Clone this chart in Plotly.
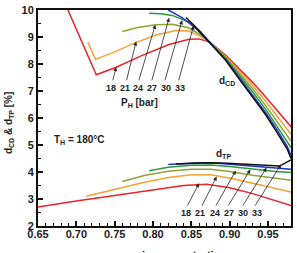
import plotly.graph_objects as go

# ---- data ----
pressures = ["18", "21", "24", "27", "30", "33"]
colors = ["#e8232b", "#f5a033", "#8da334", "#2b9a3d", "#2233cc", "#111111"]

# d_CD curves
cd18_x = [0.689, 0.726, 0.752, 0.786, 0.821, 0.847, 0.860, 0.875, 0.895, 0.912, 0.930, 0.947, 0.962, 0.975, 0.980]
cd18_y = [10.0, 7.60, 7.88, 8.32, 8.72, 8.92, 8.93, 8.80, 8.32, 7.85, 7.32, 6.78, 6.28, 5.85, 5.68]
cd21_x = [0.715, 0.725, 0.750, 0.778, 0.805, 0.830, 0.845, 0.858, 0.875, 0.895, 0.912, 0.930, 0.947, 0.962, 0.975, 0.980]
cd21_y = [8.80, 8.17, 8.45, 8.80, 9.08, 9.24, 9.23, 9.08, 8.80, 8.28, 7.76, 7.20, 6.62, 6.08, 5.58, 5.40]
cd24_x = [0.760, 0.780, 0.804, 0.825, 0.845, 0.860, 0.875, 0.895, 0.912, 0.930, 0.947, 0.962, 0.975, 0.980]
cd24_y = [9.20, 9.35, 9.45, 9.47, 9.35, 9.12, 8.79, 8.24, 7.68, 7.08, 6.46, 5.88, 5.35, 5.15]
cd27_x = [0.795, 0.810, 0.825, 0.847, 0.862, 0.875, 0.895, 0.912, 0.930, 0.947, 0.962, 0.975, 0.980]
cd27_y = [9.88, 9.86, 9.80, 9.55, 9.20, 8.78, 8.20, 7.60, 6.96, 6.32, 5.70, 5.12, 4.90]
cd30_x = [0.820, 0.838, 0.856, 0.875, 0.895, 0.912, 0.930, 0.947, 0.962, 0.975, 0.980]
cd30_y = [10.0, 9.72, 9.32, 8.77, 8.16, 7.52, 6.85, 6.20, 5.55, 4.95, 4.62]
cd33_x = [0.843, 0.856, 0.875, 0.895, 0.912, 0.930, 0.947, 0.962, 0.975, 0.980]
cd33_y = [9.72, 9.36, 8.76, 8.13, 7.46, 6.78, 6.12, 5.45, 4.85, 4.50]

# d_TP curves
tp18_x = [0.650, 0.700, 0.750, 0.800, 0.840, 0.870, 0.900, 0.930, 0.960, 0.980]
tp18_y = [2.70, 2.93, 3.13, 3.35, 3.50, 3.55, 3.42, 3.20, 2.95, 2.76]
tp21_x = [0.713, 0.750, 0.786, 0.820, 0.850, 0.875, 0.900, 0.930, 0.960, 0.980]
tp21_y = [3.10, 3.35, 3.60, 3.80, 3.90, 3.90, 3.78, 3.58, 3.38, 3.26]
tp24_x = [0.760, 0.790, 0.820, 0.850, 0.875, 0.900, 0.930, 0.960, 0.980]
tp24_y = [3.65, 3.88, 4.03, 4.10, 4.10, 4.02, 3.88, 3.76, 3.69]
tp27_x = [0.795, 0.820, 0.850, 0.875, 0.900, 0.930, 0.960, 0.980]
tp27_y = [4.05, 4.18, 4.25, 4.26, 4.20, 4.10, 4.02, 3.98]
tp30_x = [0.820, 0.840, 0.860, 0.880, 0.900, 0.930, 0.960, 0.980]
tp30_y = [4.28, 4.32, 4.34, 4.33, 4.29, 4.22, 4.15, 4.10]
tp33_x = [0.830, 0.850, 0.870, 0.890, 0.910, 0.930, 0.950, 0.965, 0.980]
tp33_y = [4.30, 4.33, 4.34, 4.33, 4.30, 4.26, 4.22, 4.22, 4.45]

cd_x = [cd18_x, cd21_x, cd24_x, cd27_x, cd30_x, cd33_x]
cd_y = [cd18_y, cd21_y, cd24_y, cd27_y, cd30_y, cd33_y]
tp_x = [tp18_x, tp21_x, tp24_x, tp27_x, tp30_x, tp33_x]
tp_y = [tp18_y, tp21_y, tp24_y, tp27_y, tp30_y, tp33_y]

# arrow annotations (head on curve, tail near label)
up_head_x = [0.752, 0.778, 0.803, 0.821, 0.838, 0.853]
up_head_y = [7.88, 8.83, 9.45, 9.71, 9.62, 9.42]
up_tail_x = [0.747, 0.765, 0.781, 0.798, 0.815, 0.833]
up_tail_y = [7.34] * 6
up_lab_x = [0.745, 0.763, 0.781, 0.799, 0.817, 0.835]
up_lab_y = 7.12

lo_head_x = [0.860, 0.883, 0.908, 0.927, 0.948, 0.967]
lo_head_y = [3.58, 3.83, 4.05, 4.09, 4.16, 4.28]
lo_tail_x = [0.844, 0.863, 0.881, 0.897, 0.916, 0.932]
lo_tail_y = [2.70] * 6
lo_lab_x = [0.843, 0.861, 0.881, 0.899, 0.917, 0.935]
lo_lab_y = 2.48

FONT = "Liberation Sans, Arial, sans-serif"

fig = go.Figure()
for i in range(6):
    fig.add_trace(go.Scatter(x=cd_x[i], y=cd_y[i], mode="lines",
                             line=dict(color=colors[i], width=1.5), showlegend=False))
    fig.add_trace(go.Scatter(x=tp_x[i], y=tp_y[i], mode="lines",
                             line=dict(color=colors[i], width=1.5), showlegend=False))

ann = []
for i in range(6):
    ann.append(dict(x=up_head_x[i], y=up_head_y[i], ax=up_tail_x[i], ay=up_tail_y[i],
                    xref="x", yref="y", axref="x", ayref="y", text="", showarrow=True,
                    arrowhead=2, arrowsize=1, arrowwidth=0.8, arrowcolor="#222"))
    ann.append(dict(x=up_lab_x[i], y=up_lab_y, xref="x", yref="y", text=pressures[i],
                    showarrow=False, font=dict(size=9, family=FONT, color="#222", weight="bold")))
    ann.append(dict(x=lo_head_x[i], y=lo_head_y[i], ax=lo_tail_x[i], ay=lo_tail_y[i],
                    xref="x", yref="y", axref="x", ayref="y", text="", showarrow=True,
                    arrowhead=2, arrowsize=1, arrowwidth=0.8, arrowcolor="#222"))
    ann.append(dict(x=lo_lab_x[i], y=lo_lab_y, xref="x", yref="y", text=pressures[i],
                    showarrow=False, font=dict(size=9, family=FONT, color="#222", weight="bold")))

bold = dict(family=FONT, color="#222", weight="bold")
ann += [
    dict(x=0.782, y=6.57, xref="x", yref="y", text="P<sub>H</sub> [bar]", showarrow=False,
         font=dict(size=10, **bold)),
    dict(x=0.896, y=7.37, xref="x", yref="y", text="d<sub>CD</sub>", showarrow=False,
         font=dict(size=10, **bold)),
    dict(x=0.892, y=4.67, xref="x", yref="y", text="d<sub>TP</sub>", showarrow=False,
         font=dict(size=10, **bold)),
    dict(x=0.704, y=5.18, xref="x", yref="y", text="T<sub>H</sub> = 180°C", showarrow=False,
         font=dict(size=10, **bold)),
    dict(x=-0.112, y=0.475, xref="paper", yref="paper", text="d<sub>CD</sub> & d<sub>TP</sub> [%]",
         textangle=-90, showarrow=False, xanchor="center", yanchor="middle",
         font=dict(size=10, **bold)),
    dict(x=0.5, y=-0.095, xref="paper", yref="paper", text="ammonia concentration",
         showarrow=False, xanchor="center", yanchor="top", font=dict(size=11, **bold)),
]

axis_common = dict(showline=True, linecolor="#111", linewidth=2, mirror=True,
                   showgrid=False, zeroline=False, ticks="inside", tickcolor="#111",
                   tickfont=dict(size=11, **bold))

fig.update_layout(
    width=297, height=253,
    margin=dict(l=38, r=4, t=7, b=27),
    paper_bgcolor="white", plot_bgcolor="white",
    annotations=ann,
    xaxis=dict(range=[0.65, 0.98], tick0=0.65, dtick=0.05, tickformat=".2f",
               ticklen=5, tickwidth=1.5, ticklabelstandoff=-3,
               minor=dict(dtick=0.01, tick0=0.65, ticks="inside", ticklen=3, tickcolor="#111", tickwidth=1),
               **axis_common),
    yaxis=dict(range=[2, 10], tick0=2, dtick=1, ticklen=5, tickwidth=1.5,
               minor=dict(dtick=0.5, ticks="inside", ticklen=3, tickcolor="#111", tickwidth=1),
               **axis_common),
)

fig.write_html("out.html")
